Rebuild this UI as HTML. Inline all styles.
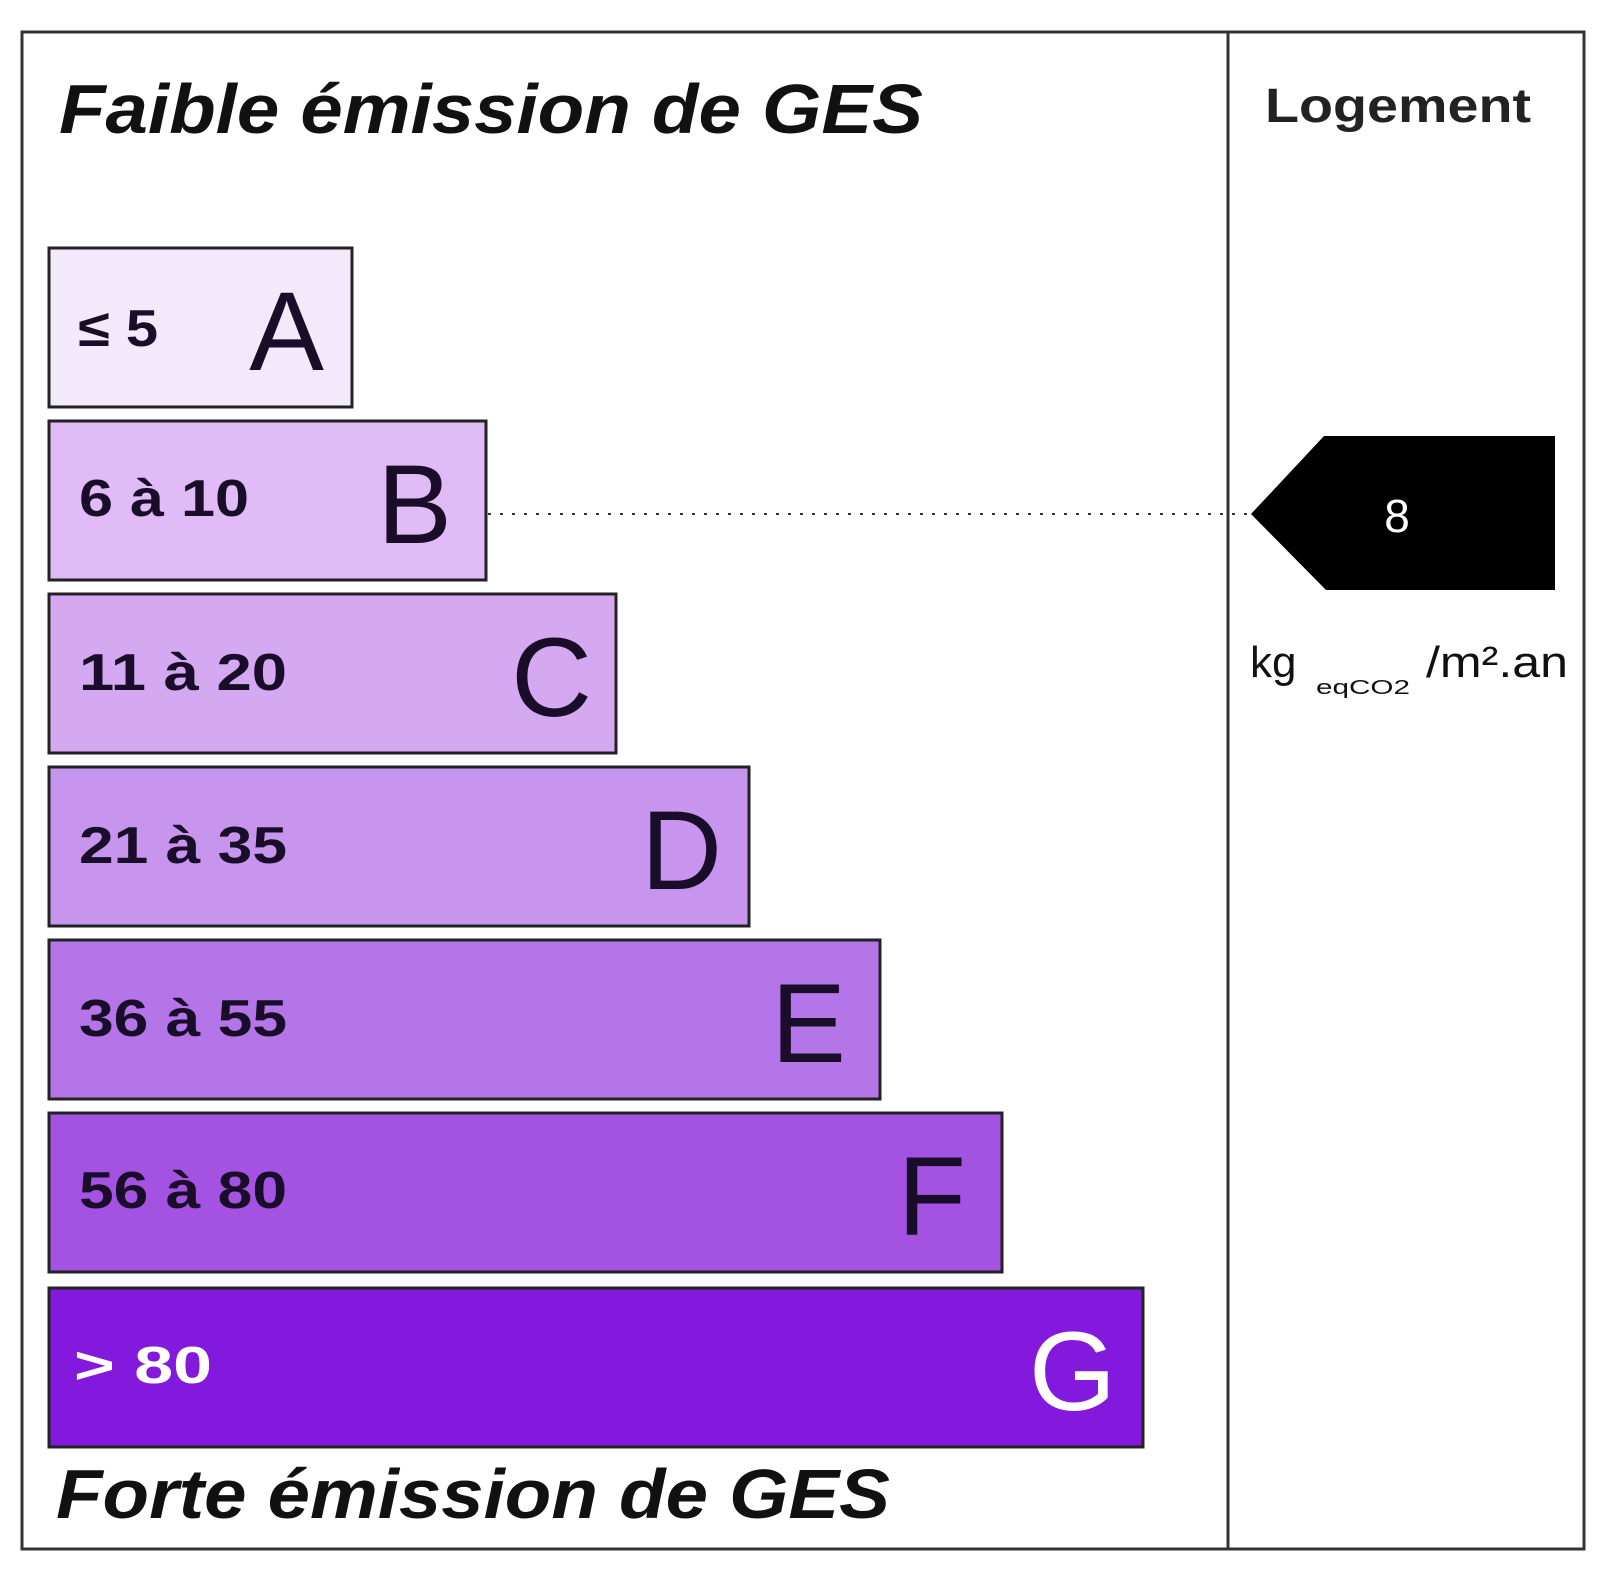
<!DOCTYPE html>
<html><head><meta charset="utf-8"><style>
html,body{margin:0;padding:0;background:#fff;}
svg{display:block;}
text{font-family:"Liberation Sans",Arial,sans-serif;}
</style></head><body>
<svg width="1600" height="1589" viewBox="0 0 1600 1589" xmlns="http://www.w3.org/2000/svg">
<rect x="0" y="0" width="1600" height="1589" fill="#fff"/>
<rect x="22" y="32" width="1562" height="1517" fill="none" stroke="#333" stroke-width="3"/>
<line x1="1228" y1="32" x2="1228" y2="1549" stroke="#333" stroke-width="3"/>
<text x="59" y="133" font-size="70" font-weight="bold" font-style="italic" fill="#111" textLength="864" lengthAdjust="spacingAndGlyphs">Faible émission de GES</text>
<text x="1265" y="122" font-size="48" font-weight="bold" fill="#222" textLength="266" lengthAdjust="spacingAndGlyphs">Logement</text>

<g stroke="#222" stroke-width="3">
<rect x="49" y="248" width="303" height="159" fill="#f2e9fb"/>
<rect x="49" y="421" width="437" height="159" fill="#e0bbf6"/>
<rect x="49" y="594" width="567" height="159" fill="#d5a9f1"/>
<rect x="49" y="767" width="700" height="159" fill="#c795ed"/>
<rect x="49" y="940" width="831" height="159" fill="#b475e8"/>
<rect x="49" y="1113" width="953" height="159" fill="#a452e2"/>
<rect x="49" y="1288" width="1094" height="159" fill="#8219dc"/>
</g>
<g font-size="52" font-weight="bold" fill="#1a0d2a" lengthAdjust="spacingAndGlyphs">
<text x="78" y="346" textLength="80" lengthAdjust="spacingAndGlyphs">≤ 5</text>
<text x="79" y="516" textLength="170" lengthAdjust="spacingAndGlyphs">6 à 10</text>
<text x="79" y="690" textLength="208" lengthAdjust="spacingAndGlyphs">11 à 20</text>
<text x="79" y="863" textLength="208" lengthAdjust="spacingAndGlyphs">21 à 35</text>
<text x="79" y="1036" textLength="208" lengthAdjust="spacingAndGlyphs">36 à 55</text>
<text x="79" y="1208" textLength="208" lengthAdjust="spacingAndGlyphs">56 à 80</text>
<text x="74" y="1383" fill="#fff" textLength="138" lengthAdjust="spacingAndGlyphs">&gt; 80</text>
</g>
<g font-size="112" fill="#1a0d2a" text-anchor="end">
<text x="324" y="370">A</text>
<text x="452" y="543">B</text>
<text x="592" y="716">C</text>
<text x="722" y="889">D</text>
<text x="846" y="1062">E</text>
<text x="966" y="1235">F</text>
<text x="1116" y="1410" fill="#fff">G</text>
</g>

<line x1="488" y1="514" x2="1251" y2="514" stroke="#333" stroke-width="2" stroke-dasharray="3,9"/>
<polygon points="1251,514 1324,436 1555,436 1555,590 1326,590" fill="#000"/>
<text x="1397" y="532" font-size="46" fill="#fff" text-anchor="middle">8</text>
<text x="1250" y="677" font-size="44" fill="#111">kg</text>
<text x="1316" y="694" font-size="20" fill="#111" textLength="94" lengthAdjust="spacingAndGlyphs">eqCO2</text>
<text x="1426" y="677" font-size="44" fill="#111" textLength="142" lengthAdjust="spacingAndGlyphs">/m².an</text>

<text x="56" y="1518" font-size="70" font-weight="bold" font-style="italic" fill="#111" textLength="834" lengthAdjust="spacingAndGlyphs">Forte émission de GES</text>
</svg>
</body></html>
